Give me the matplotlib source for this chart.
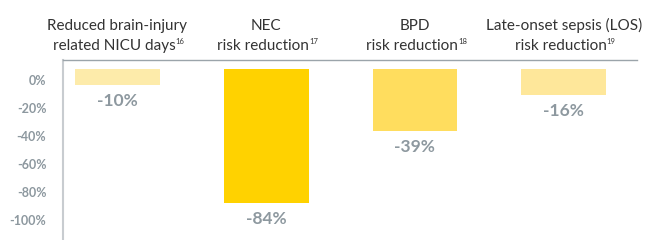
import numpy as np
import matplotlib
matplotlib.use("Agg")
import matplotlib.pyplot as plt
import matplotlib.transforms as mtransforms

plt.rcParams['font.family'] = ['Lato', 'DejaVu Sans']

# chart data
categories = ["Reduced brain-injury\nrelated NICU days",
              "NEC\nrisk reduction",
              "BPD\nrisk reduction",
              "Late-onset sepsis (LOS)\nrisk reduction"]
refs = ["16", "17", "18", "19"]
values = [-10, -84, -39, -16]
value_labels = ["-10%", "-84%", "-39%", "-16%"]
bar_colors = ["#fdebaa", "#ffd200", "#ffdd5e", "#fee79a"]
tick_values = [0, -20, -40, -60, -80, -100]
tick_labels = ["0%", "-20%", "-40%", "-60%", "-80%", "-100%"]

GRAY = "#8d989f"
DARK = "#333333"


def main():
    fig = plt.figure(figsize=(6.52, 2.4), dpi=100)
    ax = fig.add_axes([63 / 652, 0, (637 - 63) / 652, 180 / 240])

    x = np.arange(len(values))
    ax.bar(x, values, width=0.57, color=bar_colors)

    ax.set_xlim(-0.366, 3.493)
    ax.set_ylim(-106.9, 5.6)

    # tick labels sit on a slightly compressed scale in the original
    ax.set_yticks(np.array(tick_values) * 0.875 - 6.9)
    ax.set_yticklabels(tick_labels)
    ax.set_xticks([])
    ax.tick_params(axis='y', length=0, pad=12, labelsize=9, labelcolor=GRAY)
    for lab in ax.get_yticklabels():
        lab.set_fontweight('bold')

    ax.spines['right'].set_visible(False)
    ax.spines['bottom'].set_visible(False)
    ax.spines['top'].set_color("#9ba4aa")
    ax.spines['top'].set_linewidth(1.0)
    ax.spines['left'].set_color("#c8ccd0")
    ax.spines['left'].set_linewidth(1.5)

    for xi, v, lab in zip(x, values, value_labels):
        ax.annotate(lab, (xi, v), xytext=(0, -11.5), textcoords='offset points',
                    ha='center', va='center', fontsize=12.5, fontweight='bold',
                    color=GRAY)

    # two-line headers with a small reference number after the second line
    trans = mtransforms.blended_transform_factory(ax.transData, ax.transAxes)
    second_lines = []
    for xi, cat, r in zip(x, categories, refs):
        first, second = cat.split("\n")
        ax.text(xi, 1.165, first, transform=trans, ha='center', va='baseline',
                fontsize=11, color=DARK, clip_on=False)
        t = ax.text(xi - 0.02, 1.058, second, transform=trans, ha='center',
                    va='baseline', fontsize=11, color=DARK, clip_on=False)
        second_lines.append(t)

    fig.canvas.draw()
    renderer = fig.canvas.get_renderer()
    for t, r in zip(second_lines, refs):
        bb = t.get_window_extent(renderer)
        ax.annotate(r, xy=(bb.x1, bb.y0), xycoords='figure pixels',
                    xytext=(0.0, 6.5), textcoords='offset points',
                    ha='left', va='baseline', fontsize=5.5, color=DARK)

    fig.savefig("out.png", dpi=100)


if __name__ == "__main__":
    main()
